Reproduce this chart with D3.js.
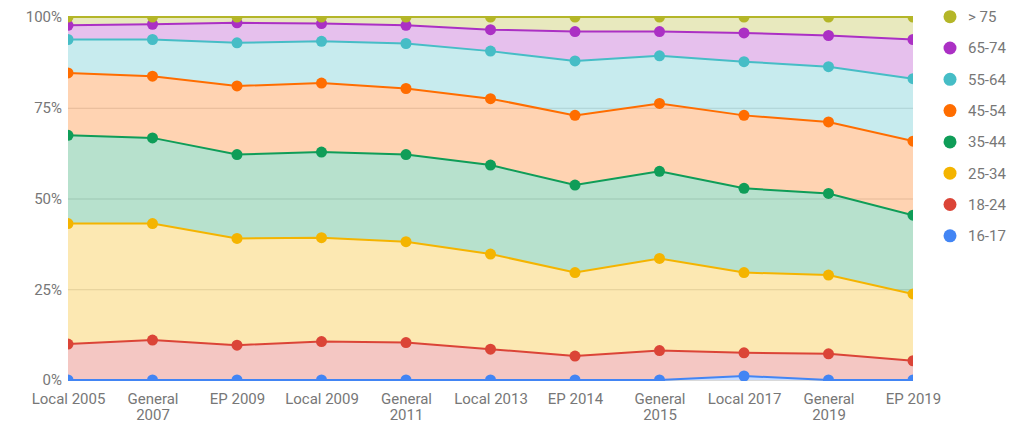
<!DOCTYPE html>
<html>
<head>
<meta charset="utf-8">
<script src="https://cdn.jsdelivr.net/npm/d3@7"></script>
<style>
  html, body { margin: 0; padding: 0; background: #fff; }
  svg { display: block; font-family: Roboto, "Noto Sans", sans-serif; }
</style>
</head>
<body>
<svg id="chart" width="1019" height="423"></svg>
<script>
// ---- data (percent share of voters by age group) ----
const categories = ["Local 2005", "General 2007", "EP 2009", "Local 2009", "General 2011",
  "Local 2013", "EP 2014", "General 2015", "Local 2017", "General 2019", "EP 2019"];
const seriesNames = ["16-17", "18-24", "25-34", "35-44", "45-54", "55-64", "65-74", "> 75"];
const age16_17 = [0, 0, 0, 0, 0, 0, 0, 0, 1.1, 0, 0];
const age18_24 = [9.9, 11.0, 9.6, 10.6, 10.3, 8.5, 6.6, 8.1, 6.4, 7.2, 5.3];
const age25_34 = [33.2, 32.1, 29.4, 28.6, 27.8, 26.2, 23.0, 25.4, 22.1, 21.7, 18.4];
const age35_44 = [24.3, 23.6, 23.1, 23.6, 24.0, 24.5, 24.1, 24.0, 23.2, 22.5, 21.7];
const age45_54 = [17.2, 17.0, 18.9, 19.0, 18.2, 18.3, 19.2, 18.7, 20.1, 19.7, 20.4];
const age55_64 = [9.2, 10.1, 11.9, 11.5, 12.4, 13.1, 15.0, 13.1, 14.8, 15.2, 17.2];
const age65_74 = [3.9, 4.2, 5.5, 4.9, 5.0, 5.9, 8.1, 6.7, 7.9, 8.6, 10.8];
const age75plus = [2.3, 2.0, 1.6, 1.8, 2.3, 3.5, 4.0, 4.0, 4.4, 5.1, 6.2];
const seriesValues = [age16_17, age18_24, age25_34, age35_44, age45_54, age55_64, age65_74, age75plus];
const yTicks = [0, 25, 50, 75, 100];
const colors = ["#4285F4", "#DB4437", "#F4B400", "#0F9D58", "#FF6D00", "#46BDC6", "#AB30C4", "#B4B628"];

// ---- table for d3.stack ----
const table = categories.map((c, i) => {
  const row = { cat: c };
  seriesNames.forEach((s, j) => { row[s] = seriesValues[j][i]; });
  return row;
});

const svg = d3.select("#chart");
const margin = { left: 68, right: 106, top: 17, bottom: 43 };
const W = 1019, H = 423;
const iw = W - margin.left - margin.right;   // 845
const ih = H - margin.top - margin.bottom;   // 363

const x = d3.scalePoint().domain(categories).range([0, iw]);
const y = d3.scaleLinear().domain([0, 100]).range([ih, 0]);

const g = svg.append("g").attr("transform", `translate(${margin.left},${margin.top})`);

svg.append("defs").append("clipPath").attr("id", "plotclip")
  .append("rect").attr("x", 0).attr("y", -1).attr("width", iw).attr("height", ih + 2);

// gridlines + y labels
const yAxis = g.append("g").call(
  d3.axisLeft(y).tickValues(yTicks).tickFormat(d => d + "%").tickSize(-iw).tickPadding(6)
);
yAxis.select(".domain").remove();
yAxis.selectAll(".tick line").attr("stroke", "#d9d9d9").attr("stroke-width", 1);
yAxis.selectAll(".tick text").attr("fill", "#777").style("font-size", "15px")
  .style("font-family", "Roboto, sans-serif");

// stack
const stack = d3.stack().keys(seriesNames);
const layers = stack(table);

const plot = g.append("g").attr("clip-path", "url(#plotclip)");

const area = d3.area()
  .x(d => x(d.data.cat))
  .y0(d => y(d[0]))
  .y1(d => y(d[1]));
const line = d3.line()
  .x(d => x(d.data.cat))
  .y(d => y(d[1]));

plot.selectAll("path.area").data(layers).join("path")
  .attr("class", "area")
  .attr("d", area)
  .attr("fill", (d, i) => colors[i])
  .attr("fill-opacity", 0.3);

layers.forEach((layer, i) => {
  plot.append("path").datum(layer)
    .attr("d", line)
    .attr("fill", "none")
    .attr("stroke", colors[i])
    .attr("stroke-width", 2);
  plot.append("g").selectAll("circle").data(layer).join("circle")
    .attr("cx", d => x(d.data.cat))
    .attr("cy", d => y(d[1]))
    .attr("r", 5.5)
    .attr("fill", colors[i]);
});

// x axis labels
const xAxis = g.append("g").attr("transform", `translate(0,${ih})`)
  .call(d3.axisBottom(x).tickSize(0).tickPadding(16));
xAxis.select(".domain").remove();
xAxis.selectAll(".tick text")
  .attr("fill", "#777").style("font-size", "15px").style("font-family", "Roboto, sans-serif")
  .each(function (d) {
    const t = d3.select(this);
    if (this.getComputedTextLength() > 80) {
      const words = d.split(" ");
      t.text(null);
      t.append("tspan").attr("x", 0).attr("dy", "0.71em").text(words[0]);
      t.append("tspan").attr("x", 0).attr("dy", "1.12em").text(words.slice(1).join(" "));
      t.attr("dy", null);
    }
  });
xAxis.selectAll(".tick text").attr("y", 13);

// legend (reverse order)
const legend = svg.append("g").attr("transform", "translate(950,16.7)");
const legendItems = seriesNames.map((s, i) => ({ name: s, color: colors[i] })).reverse();
const lg = legend.selectAll("g").data(legendItems).join("g")
  .attr("transform", (d, i) => `translate(0,${i * 31.3})`);
lg.append("circle").attr("r", 6.5).attr("fill", d => d.color);
lg.append("text").attr("x", 18).attr("dy", "0.36em")
  .attr("fill", "#777").style("font-size", "15px").text(d => d.name);
</script>
</body>
</html>
